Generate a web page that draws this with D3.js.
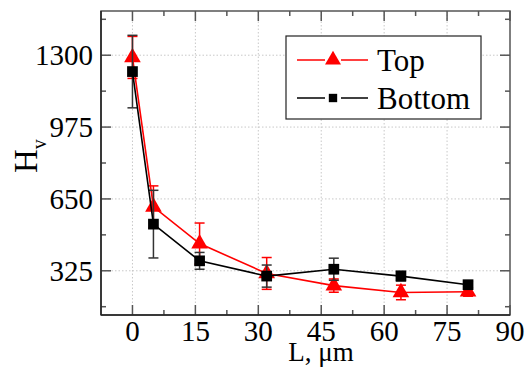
<!DOCTYPE html>
<html>
<head>
<meta charset="utf-8">
<script src="https://cdn.jsdelivr.net/npm/d3@7"></script>
<style>
  body { margin: 0; background: #fff; }
</style>
</head>
<body>
<svg width="529" height="367"></svg>
<script>
// data
const lengths = [0, 5, 16, 32, 48, 64, 80]
const topValues = [1290, 614, 448, 313, 258, 227, 230]
const topErrors = [95, 95, 93, 72, 30, 33, 20]
const bottomValues = [1226, 536, 370, 301, 332, 301, 262]
const bottomErrors = [164, 153, 38, 50, 50, 22, 15]
const xTicks = [0, 15, 30, 45, 60, 75, 90]
const yTicks = [325, 650, 975, 1300]
const yMinorTicks = [162.5, 487.5, 812.5, 1137.5, 1462.5]
const xMinorTicks = [7.5, 22.5, 37.5, 52.5, 67.5, 82.5]

const serif = "'Liberation Serif', 'Times New Roman', 'DejaVu Serif', serif"

let margin = { top: 11, right: 19, bottom: 52, left: 101 },
    width = 529 - margin.left - margin.right,
    height = 367 - margin.top - margin.bottom;

let svg = d3.select("svg")
let g = svg.append("g").attr("transform", "translate(" + margin.left + "," + margin.top + ")")

let xScale = d3.scaleLinear().domain([-7.5, 90]).range([0, width])
let yScale = d3.scaleLinear().domain([125, 1500]).range([height, 0])

// dotted grid
g.append("g").selectAll("line").data(xTicks.filter(d => d < 90)).enter().append("line")
    .attr("x1", d => xScale(d)).attr("x2", d => xScale(d))
    .attr("y1", 0).attr("y2", height)
    .attr("stroke", "#c8c8c8").attr("stroke-dasharray", "1.5,2")
g.append("g").selectAll("line").data(yTicks).enter().append("line")
    .attr("x1", 0).attr("x2", width)
    .attr("y1", d => yScale(d)).attr("y2", d => yScale(d))
    .attr("stroke", "#c8c8c8").attr("stroke-dasharray", "1.5,2")

// inward ticks on all four sides
const tickColor = "#555"
function ticks(data, len, horizontal) {
    data.forEach(d => {
        if (horizontal) {
            let x = xScale(d)
            g.append("line").attr("x1", x).attr("x2", x).attr("y1", height).attr("y2", height - len)
                .attr("stroke", tickColor).attr("stroke-width", 1.5)
            g.append("line").attr("x1", x).attr("x2", x).attr("y1", 0).attr("y2", len)
                .attr("stroke", tickColor).attr("stroke-width", 1.5)
        } else {
            let y = yScale(d)
            g.append("line").attr("x1", 0).attr("x2", len).attr("y1", y).attr("y2", y)
                .attr("stroke", tickColor).attr("stroke-width", 1.5)
            g.append("line").attr("x1", width).attr("x2", width - len).attr("y1", y).attr("y2", y)
                .attr("stroke", tickColor).attr("stroke-width", 1.5)
        }
    })
}
ticks(xTicks, 10, true)
ticks(xMinorTicks, 5, true)
ticks(yTicks, 10, false)
ticks(yMinorTicks, 5, false)

// frame
g.append("rect").attr("width", width).attr("height", height)
    .attr("fill", "none").attr("stroke", tickColor).attr("stroke-width", 1.5)
g.append("line").attr("x1", 0).attr("x2", width).attr("y1", height).attr("y2", height)
    .attr("stroke", "#222").attr("stroke-width", 1.5)
g.append("line").attr("x1", 0).attr("x2", 0).attr("y1", 0).attr("y2", height)
    .attr("stroke", "#222").attr("stroke-width", 1.5)

// tick labels
g.append("g").selectAll("text").data(xTicks).enter().append("text")
    .attr("x", d => xScale(d)).attr("y", height + 26)
    .attr("text-anchor", "middle")
    .attr("font-family", serif)
    .attr("font-size", 29)
    .text(d => d)
g.append("g").selectAll("text").data(yTicks).enter().append("text")
    .attr("x", -8).attr("y", d => yScale(d) + 10)
    .attr("text-anchor", "end")
    .attr("font-family", serif)
    .attr("font-size", 29)
    .text(d => d)

// axis titles
svg.append("text")
    .attr("x", 321).attr("y", 361)
    .attr("text-anchor", "middle")
    .attr("font-family", serif)
    .attr("font-size", 27)
    .text("L, μm")
let yl = svg.append("text")
    .attr("transform", "translate(37,173) rotate(-90)")
    .attr("font-family", serif)
    .attr("font-size", 33)
yl.append("tspan").text("H")
yl.append("tspan").attr("dy", 9).attr("font-size", 20).text("v")

const series = [
    { name: "Top", values: topValues, errors: topErrors, color: "#ff0000", capColor: "#ff0000", shape: d3.symbolTriangle, size: 120 },
    { name: "Bottom", values: bottomValues, errors: bottomErrors, color: "#000000", capColor: "#333", shape: d3.symbolSquare, size: 115 }
]

let line = d3.line().x(d => xScale(d[0])).y(d => yScale(d[1]))

series.forEach(s => {
    let pts = lengths.map((x, i) => [x, s.values[i], s.errors[i]])
    let sg = g.append("g")
    // error bars
    pts.forEach(p => {
        let x = xScale(p[0])
        sg.append("line").attr("x1", x).attr("x2", x)
            .attr("y1", yScale(p[1] - p[2])).attr("y2", yScale(p[1] + p[2]))
            .attr("stroke", s.capColor).attr("stroke-width", 1.5)
        ;[p[1] - p[2], p[1] + p[2]].forEach(v => {
            sg.append("line").attr("x1", x - 5).attr("x2", x + 5)
                .attr("y1", yScale(v)).attr("y2", yScale(v))
                .attr("stroke", s.capColor).attr("stroke-width", 1.5)
        })
    })
    sg.append("path").datum(pts).attr("d", line)
        .attr("fill", "none").attr("stroke", s.color).attr("stroke-width", 1.6)
    sg.selectAll("path.m").data(pts).enter().append("path")
        .attr("class", "m")
        .attr("transform", d => "translate(" + xScale(d[0]) + "," + yScale(d[1]) + ")")
        .attr("d", d3.symbol().type(s.shape).size(s.size))
        .attr("fill", s.color)
})

// legend
const legend = svg.append("g")
legend.append("rect").attr("x", 286).attr("y", 36).attr("width", 195).attr("height", 83)
    .attr("fill", "#fff").attr("stroke", "#222").attr("stroke-width", 1.2)
series.forEach((s, i) => {
    let y = 60 + i * 38
    legend.append("line").attr("x1", 297).attr("x2", 368).attr("y1", y).attr("y2", y)
        .attr("stroke", s.color).attr("stroke-width", 1.5)
    legend.append("rect").attr("x", 325).attr("y", y - 8).attr("width", 16).attr("height", 16).attr("fill", "#fff")
    legend.append("path").attr("transform", "translate(333," + y + ")")
        .attr("d", d3.symbol().type(s.shape).size(i == 0 ? 110 : 70))
        .attr("fill", s.color)
    legend.append("text").attr("x", 377).attr("y", y + 11)
        .attr("font-family", serif)
        .attr("font-size", 31)
        .text(s.name)
})
</script>
</body>
</html>
